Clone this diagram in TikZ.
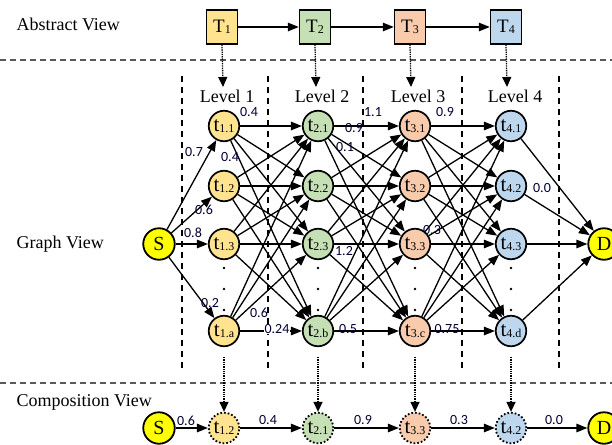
\documentclass[tikz,border=0pt]{standalone}
\usepackage{fontspec}
\setmainfont{Liberation Serif}
\newfontfamily\numfont{Carlito}
\usetikzlibrary{arrows.meta}

\definecolor{lvA}{HTML}{FFE38F}
\definecolor{lvB}{HTML}{C5E0B4}
\definecolor{lvC}{HTML}{F8CBAD}
\definecolor{lvD}{HTML}{BDD7EE}
\definecolor{endpt}{HTML}{FFFF00}

% task name with a lowered index, e.g. \tsk{t}{1.1}
\newcommand\tsk[2]{#1{\fontsize{12}{12}\selectfont\raisebox{-1.5pt}{#2}}}

\tikzset{
  task/.style={circle, draw, line width=1.7pt, minimum size=30.5pt, inner sep=0pt,
    font=\fontsize{21}{21}\selectfont},
  ctask/.style={task, dotted, line width=1.8pt},
  endnode/.style={circle, draw, line width=1.8pt, fill=endpt, minimum size=31.5pt,
    inner sep=0pt, font=\fontsize{20}{20}\selectfont},
  absbox/.style={draw, line width=1.4pt, minimum width=31pt, minimum height=34pt,
    inner sep=0pt, font=\fontsize{19}{19}\selectfont},
  link/.style={-{Triangle[length=11pt,width=8.5pt]}, line width=1.3pt},
  probe/.style={densely dotted, line width=1.3pt, -{Triangle[length=10pt,width=9pt]}},
  wlab/.style={font=\numfont\fontsize{14}{14}\selectfont, inner sep=0.5pt, text=black!80!blue},
  viewlab/.style={anchor=west, font=\fontsize{18}{18}\selectfont},
  levlab/.style={font=\fontsize{18}{18}\selectfont},
  hsep/.style={dash pattern=on 6pt off 4pt, line width=1.2pt, draw=black!65},
  vsep/.style={dash pattern=on 6pt off 5pt, line width=1.3pt},
}

\begin{document}
\begin{tikzpicture}[x=1pt, y=-1pt]
\useasboundingbox (0,0) rectangle (612,444);
\clip (0,0) rectangle (612,444);

% separators
\draw[hsep] (0,60) -- (612,60);
\draw[hsep] (0,383) -- (612,383);
\foreach \x in {182,268,363,462,559}
  \draw[vsep] (\x,76) -- (\x,368);

% view titles
\node[viewlab] (vAbs) at (13,24) {Abstract View};
\node[viewlab] (vGraph) at (13,244) {Graph View};
\node[viewlab] (vComp) at (13,402) {Composition View};

% abstract view
\node[absbox, fill=lvA] (T1) at (222,27) {\tsk{T}{1}};
\node[absbox, fill=lvB] (T2) at (315,27) {\tsk{T}{2}};
\node[absbox, fill=lvC] (T3) at (410,27) {\tsk{T}{3}};
\node[absbox, fill=lvD] (T4) at (506,27) {\tsk{T}{4}};
\foreach \a/\b in {T1/T2, T2/T3, T3/T4}
  \draw[link] (\a) -- (\b);

% level titles
\node[levlab] (L1) at (227,96) {Level 1};
\node[levlab] (L2) at (322,96) {Level 2};
\node[levlab] (L3) at (418,96) {Level 3};
\node[levlab] (L4) at (515,96) {Level 4};
\foreach \i/\x in {1/223, 2/316, 3/411, 4/507} {
  \coordinate (pt\i) at (\x,87);
  \draw[probe] (T\i.south) -- (pt\i);
}

% graph view nodes
\node[endnode] (S) at (159,244) {S};
\node[endnode] (D) at (604,244) {D};
\foreach \l/\x/\col/\last in {1/224/lvA/a, 2/318/lvB/b, 3/415/lvC/c, 4/511/lvD/d} {
  \node[task, fill=\col] (n\l-1) at (\x,126) {\tsk{t}{\l.1}};
  \node[task, fill=\col] (n\l-2) at (\x,186) {\tsk{t}{\l.2}};
  \node[task, fill=\col] (n\l-3) at (\x,244) {\tsk{t}{\l.3}};
  \node[task, fill=\col] (n\l-4) at (\x,331) {\tsk{t}{\l.\last}};
  \foreach \y in {268,289,310}
    \fill (\x,\y) circle (1.4pt);
}

% graph view edges
\foreach \r in {1,...,4} {
  \draw[link] (S) -- (n1-\r);
  \draw[link] (n4-\r) -- (D);
}
\foreach \l/\m in {1/2, 2/3, 3/4}
  \foreach \r in {1,...,4}
    \foreach \s in {1,...,4}
      \draw[link] (n\l-\r) -- (n\m-\s);

% edge weights
\node[wlab] (w1) at (194,152) {0.7};
\node[wlab] (w2) at (204,210) {0.6};
\node[wlab] (w3) at (193,233) {0.8};
\node[wlab] (w4) at (210,303) {0.2};
\node[wlab] (w5) at (249,112) {0.4};
\node[wlab] (w6) at (230,157) {0.4};
\node[wlab] (w7) at (259,313) {0.6};
\node[wlab, fill=white] (w8) at (277,329) {0.24};
\node[wlab] (w9) at (373,112) {1.1};
\node[wlab] (w10) at (354,128) {0.9};
\node[wlab] (w11) at (345,147) {0.1};
\node[wlab] (w12) at (344,251) {1.2};
\node[wlab] (w13) at (348,329) {0.5};
\node[wlab] (w14) at (445,112) {0.9};
\node[wlab] (w15) at (432,230) {0.3};
\node[wlab] (w16) at (447,329) {0.75};
\node[wlab] (w17) at (542,188) {0.0};

% composition view
\node[endnode] (cS) at (159,428) {S};
\node[ctask, fill=lvA] (k1) at (224,428) {\tsk{t}{1.2}};
\node[ctask, fill=lvB] (k2) at (318,428) {\tsk{t}{2.1}};
\node[ctask, fill=lvC] (k3) at (415,428) {\tsk{t}{3.3}};
\node[ctask, fill=lvD] (k4) at (511,428) {\tsk{t}{4.2}};
\node[endnode] (cD) at (604,428) {D};
\foreach \a/\b in {cS/k1, k1/k2, k2/k3, k3/k4, k4/cD}
  \draw[link] (\a) -- (\b);
\node[wlab] (u1) at (186,421) {0.6};
\node[wlab] (u2) at (268,420) {0.4};
\node[wlab] (u3) at (363,420) {0.9};
\node[wlab] (u4) at (459,420) {0.3};
\node[wlab] (u5) at (554,420) {0.0};
\foreach \i/\x in {1/224, 2/318, 3/415, 4/511} {
  \coordinate (pb\i) at (\x,357);
  \draw[probe] (pb\i) -- (k\i.north);
}
\end{tikzpicture}
\end{document}
